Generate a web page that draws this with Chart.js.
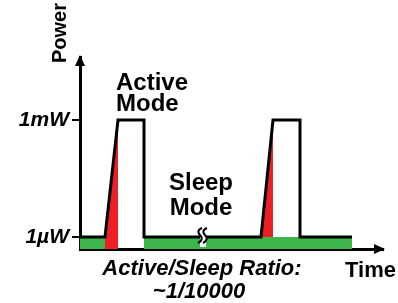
<!DOCTYPE html>
<html>
<head>
<meta charset="utf-8">
<script src="https://cdn.jsdelivr.net/npm/chart.js@4.4.1/dist/chart.umd.min.js"></script>
<style>
  body { margin: 0; background: #fff; }
  canvas { display: block; }
</style>
</head>
<body>
<canvas id="grafico" width="398" height="303"></canvas>
<script>
// Datos del diagrama (tiempo en unidades arbitrarias, potencia en escala relativa)
var tiempos = [0, 25, 38, 64, 64, 181, 193, 220, 220, 272];
var potencia = [1, 1, 10.75, 10.75, 1, 1, 10.75, 10.75, 1, 1];

var nivelSueno = 1;
var nivelActivo = 10.75;
var tiempoMax = 303;
var potenciaMax = 16;

// Tramos en verde (modo sueño) y rampas en rojo
var tramosVerdes = [[0, 25], [64, 272]];
var rampasRojas = [[25, 38], [181, 193]];
var corteTiempo = 123;

var valoresTicks = [nivelSueno, nivelActivo];
var etiquetasTicks = ["1µW", "1mW"];

var fuente = "'Liberation Sans', Arial, sans-serif";
var verde = "#3db54a";
var rojo = "#ec1f27";

var datasets = [];
datasets.push({
  data: tiempos.map(function (t, i) { return { x: t, y: potencia[i] }; }),
  borderColor: "#000",
  borderWidth: 3,
  pointRadius: 0,
  fill: false,
  order: 0,
  borderJoinStyle: "miter",
});
tramosVerdes.forEach(function (tr) {
  datasets.push({
    data: [{ x: tr[0], y: nivelSueno }, { x: tr[1], y: nivelSueno }],
    borderWidth: 0,
    pointRadius: 0,
    backgroundColor: verde,
    fill: "origin",
    order: 2,
  });
});
rampasRojas.forEach(function (r) {
  datasets.push({
    data: [{ x: r[0], y: nivelSueno }, { x: r[1], y: nivelActivo }],
    borderWidth: 0,
    pointRadius: 0,
    backgroundColor: rojo,
    fill: "origin",
    order: 2,
  });
});

// Textos, flechas y símbolo de corte
var anotaciones = {
  id: "anotaciones",
  afterDraw: function (chart) {
    var c = chart.ctx;
    var a = chart.chartArea;
    var sx = chart.scales.x, sy = chart.scales.y;
    c.save();
    c.fillStyle = "#000";

    // flechas de los ejes
    c.beginPath();
    c.moveTo(a.left, a.top - 2);
    c.lineTo(a.left - 5, a.top + 9);
    c.lineTo(a.left + 5, a.top + 9);
    c.closePath();
    c.fill();
    c.beginPath();
    c.moveTo(a.right + 2, a.bottom);
    c.lineTo(a.right - 9, a.bottom - 5);
    c.lineTo(a.right - 9, a.bottom + 5);
    c.closePath();
    c.fill();

    // corte del eje de tiempo
    var xc = sx.getPixelForValue(corteTiempo);
    var yb = sy.getPixelForValue(nivelSueno);
    c.fillStyle = "#fff";
    c.fillRect(xc - 3, yb - 3, 6, a.bottom - yb + 1);
    c.strokeStyle = "#000";
    c.lineWidth = 2;
    [-3, 2].forEach(function (dx) {
      var x0 = xc + dx;
      c.beginPath();
      c.moveTo(x0 + 2, yb - 9);
      c.bezierCurveTo(x0 - 3, yb - 7, x0 - 2, yb - 4, x0, yb - 2);
      c.bezierCurveTo(x0 + 3, yb + 1, x0 + 2, yb + 4, x0 - 2, yb + 6);
      c.stroke();
    });

    c.fillStyle = "#000";
    c.textBaseline = "alphabetic";
    c.font = "bold 24px " + fuente;
    c.textAlign = "left";
    c.fillText("Active", 116, 90);
    c.fillText("Mode", 116, 111);
    c.textAlign = "center";
    c.fillText("Sleep", 201, 190);
    c.fillText("Mode", 201, 215);

    c.font = "italic bold 22px " + fuente;
    c.fillText("Active/Sleep Ratio:", 202, 275);
    c.fillText("~1/10000", 199, 298);

    c.font = "bold 22px " + fuente;
    c.textAlign = "left";
    c.fillText("Time", 345, 277);

    c.save();
    c.translate(66, 33);
    c.rotate(-Math.PI / 2);
    c.textAlign = "center";
    c.font = "bold 20px " + fuente;
    c.fillText("Power", 0, 0);
    c.restore();

    c.restore();
  },
};

var grafico = new Chart(document.getElementById("grafico").getContext("2d"), {
  type: "line",
  data: { datasets: datasets },
  options: {
    responsive: false,
    animation: false,
    layout: { padding: { top: 57, right: 15, left: 0, bottom: 0 } },
    plugins: { legend: { display: false }, tooltip: { enabled: false } },
    scales: {
      x: {
        type: "linear",
        min: 0,
        max: tiempoMax,
        z: 1,
        ticks: { display: false },
        grid: { display: false },
        border: { display: true, color: "#000", width: 3 },
        afterFit: function (s) { s.height = 54; },
      },
      y: {
        min: 0,
        max: potenciaMax,
        z: 1,
        afterBuildTicks: function (s) {
          s.ticks = valoresTicks.map(function (v) { return { value: v }; });
        },
        ticks: {
          color: "#000",
          padding: 3,
          font: { family: fuente, size: 21, weight: "bold", style: "italic" },
          callback: function (v) {
            var i = valoresTicks.indexOf(v);
            return i >= 0 ? etiquetasTicks[i] : "";
          },
        },
        grid: { drawOnChartArea: false, drawTicks: true, tickLength: 8, color: "#000", lineWidth: 2 },
        border: { display: true, color: "#000", width: 3 },
        afterFit: function (s) { s.width = 80; },
      },
    },
  },
  plugins: [anotaciones],
});
</script>
</body>
</html>
